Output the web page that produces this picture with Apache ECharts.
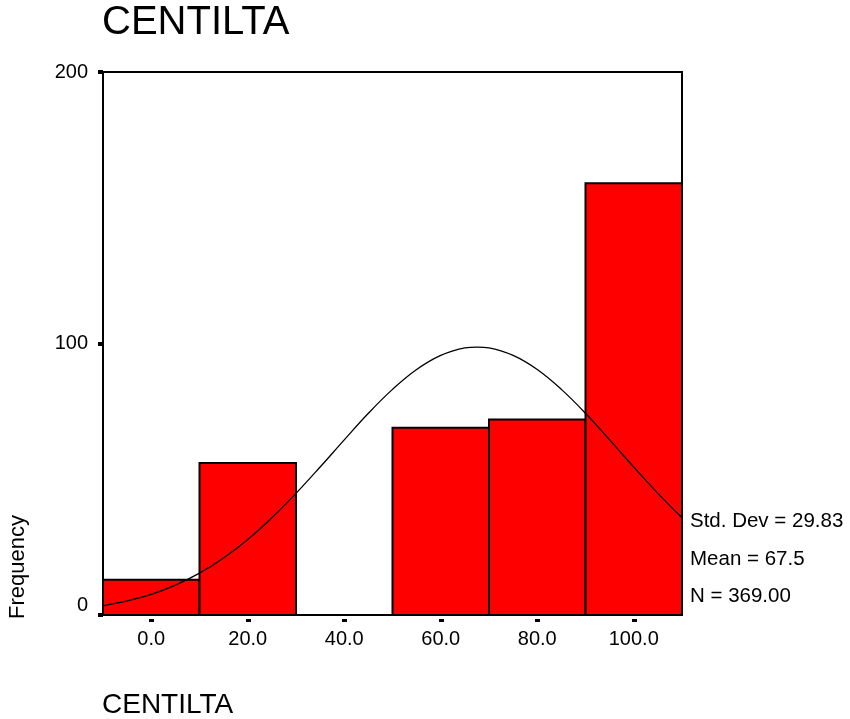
<!DOCTYPE html>
<html>
<head>
<meta charset="utf-8">
<script src="https://cdn.jsdelivr.net/npm/echarts@6/dist/echarts.min.js"></script>
<style>html,body{margin:0;padding:0;background:#fff}#c{width:850px;height:719px}</style>
</head>
<body>
<div id="c"></div>
<script>
// Histogram bins (CENTILTA)
var binStart = [-10, 10, 30, 50, 70, 90];
var binEnd = [10, 30, 50, 70, 90, 110];
var frequency = [13, 56, 0, 69, 72, 159];
// Normal curve
var curveX = [-10, -5, 0, 5, 10, 15, 20, 25, 30, 35, 40, 45, 50, 55, 60, 65, 67.5, 70, 75, 80, 85, 90, 95, 100, 105, 110];
var curveY = [3.4, 5.2, 7.6, 11.0, 15.4, 21.0, 27.8, 35.8, 44.8, 54.5, 64.5, 74.3, 83.1, 90.4, 95.6, 98.4, 98.7, 98.4, 95.6, 90.4, 83.1, 74.3, 64.5, 54.5, 44.8, 35.8];
var xTicks = [0, 20, 40, 60, 80, 100];
var yTicks = [0, 100, 200];
var statsLines = ['Std. Dev = 29.83', 'Mean = 67.5', 'N = 369.00'];

var barData = binStart.map(function (s, i) { return [s, binEnd[i], frequency[i]]; });
var curveData = curveX.map(function (x, i) { return [x, curveY[i]]; });

var chart = echarts.init(document.getElementById('c'), null, { renderer: 'canvas' });
var font = 'Liberation Sans, Arial, sans-serif';
chart.setOption({
  animation: false,
  backgroundColor: '#fff',
  grid: { left: 103, top: 72, width: 579, height: 543, outerBoundsMode: 'none', containLabel: false,
          show: true, borderColor: '#000', borderWidth: 2, backgroundColor: 'transparent' },
  xAxis: [{
    type: 'value', min: -10, max: 110, position: 'bottom',
    splitLine: { show: false },
    axisLine: { show: true, onZero: false, lineStyle: { color: '#000', width: 2 } },
    axisTick: { show: false },
    axisLabel: {
      customValues: xTicks, margin: 14, color: '#000', fontFamily: font, fontSize: 20,
      formatter: function (v) { return v.toFixed(1); }
    }
  }, {
    type: 'value', min: -10, max: 110, position: 'bottom', offset: 4,
    splitLine: { show: false },
    axisLine: { show: false, onZero: false },
    axisTick: { show: true, customValues: xTicks, length: 3, lineStyle: { color: '#000', width: 5 } },
    axisLabel: { show: false }
  }],
  yAxis: {
    type: 'value', min: 0, max: 200, interval: 100, position: 'left',
    splitLine: { show: false },
    axisLine: { show: true, onZero: false, lineStyle: { color: '#000', width: 2 } },
    axisTick: { show: true, inside: false, length: 5, lineStyle: { color: '#000', width: 4 } },
    axisLabel: {
      customValues: yTicks, margin: 15, color: '#000', fontFamily: font, fontSize: 20,
      formatter: function (v) { return v === 0 ? '{z|0}' : String(v); },
      rich: { z: { fontFamily: font, fontSize: 20, color: '#000', padding: [0, 0, 20, 0] } }
    }
  },
  series: [{
    type: 'custom',
    xAxisIndex: 0,
    data: barData,
    renderItem: function (params, api) {
      var p0 = api.coord([api.value(0), api.value(2)]);
      var p1 = api.coord([api.value(1), 0]);
      if (api.value(2) <= 0) return null;
      return {
        type: 'rect',
        shape: { x: p0[0], y: p0[1], width: p1[0] - p0[0], height: p1[1] - p0[1] },
        style: { fill: '#ff0000', stroke: '#000', lineWidth: 2 }
      };
    },
    z: 2
  }, {
    type: 'line',
    xAxisIndex: 0,
    data: curveData,
    smooth: 0.4,
    showSymbol: false,
    lineStyle: { color: '#000', width: 1.3 },
    z: 3
  }],
  graphic: [{
    type: 'text', left: 102, top: 3,
    style: { text: 'CENTILTA', font: '40px ' + font, fill: '#000' }
  }, {
    type: 'text', left: 102, top: 691,
    style: { text: 'CENTILTA', font: '28px ' + font, fill: '#000' }
  }, {
    type: 'text', x: 7, y: 619, rotation: Math.PI / 2,
    style: { text: 'Frequency', font: '22px ' + font, fill: '#000', textAlign: 'left', textVerticalAlign: 'top' }
  }].concat(statsLines.map(function (t, i) {
    return {
      type: 'text', left: 690, top: 511 + i * 37.5,
      style: { text: t, font: '20.5px ' + font, fill: '#000' }
    };
  }))
});
</script>
</body>
</html>
